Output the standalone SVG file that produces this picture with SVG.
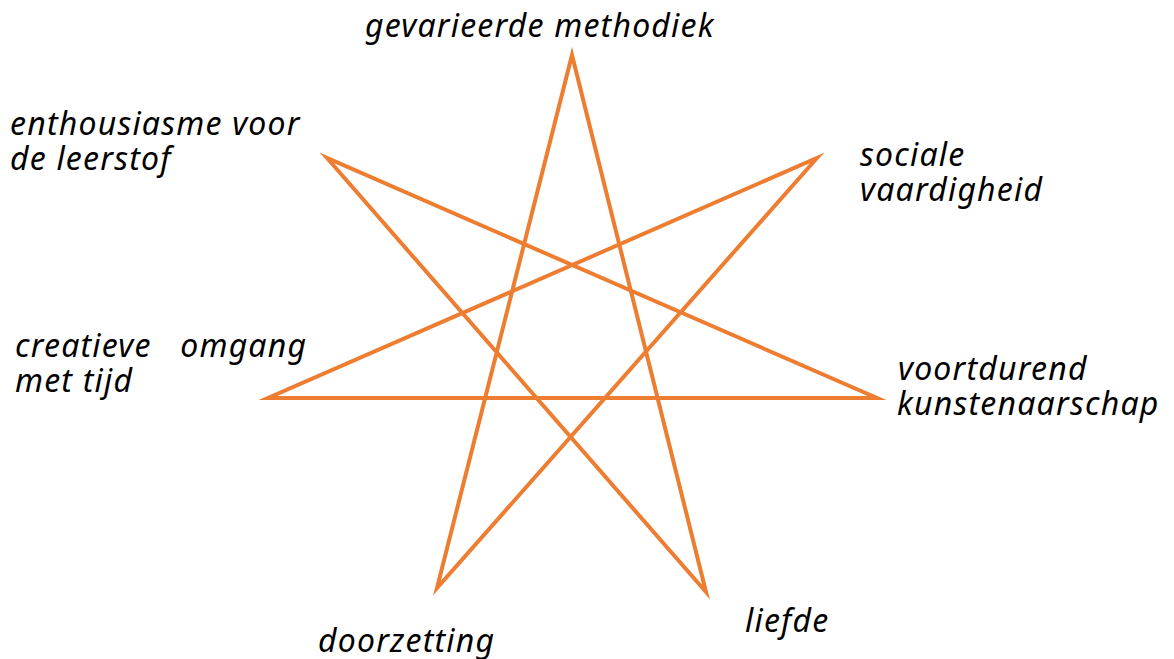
<svg xmlns="http://www.w3.org/2000/svg" width="1174" height="659" viewBox="0 0 1174 659">
<style>
.lbl{font-family:"Noto Sans","DejaVu Sans",sans-serif;font-style:italic;font-size:32px;fill:#000;letter-spacing:1.2px}
.star{fill:none;stroke:#ED7D31;stroke-width:4;stroke-linejoin:miter;stroke-miterlimit:20}
</style>
<rect width="1174" height="659" fill="#fff"/>
<g id="connectors">
<path class="star" d="M572,55 L706,592 L327,158 L877,398 L268,398 L817,158 L437,588 Z"/>
</g>
<g id="n-top"><text class="lbl" x="365" y="37">gevarieerde methodiek</text></g>
<g id="n-ul"><text class="lbl" x="10" y="135">enthousiasme voor</text><text class="lbl" x="10" y="170">de leerstof</text></g>
<g id="n-ur"><text class="lbl" x="860" y="166">sociale</text><text class="lbl" x="860" y="201">vaardigheid</text></g>
<g id="n-l"><text class="lbl" x="15" y="357" xml:space="preserve">creatieve   omgang</text><text class="lbl" x="15" y="392">met tijd</text></g>
<g id="n-r"><text class="lbl" x="898" y="380">voortdurend</text><text class="lbl" x="897" y="415">kunstenaarschap</text></g>
<g id="n-br"><text class="lbl" x="745" y="632">liefde</text></g>
<g id="n-bl"><text class="lbl" x="318" y="652">doorzetting</text></g>
</svg>
